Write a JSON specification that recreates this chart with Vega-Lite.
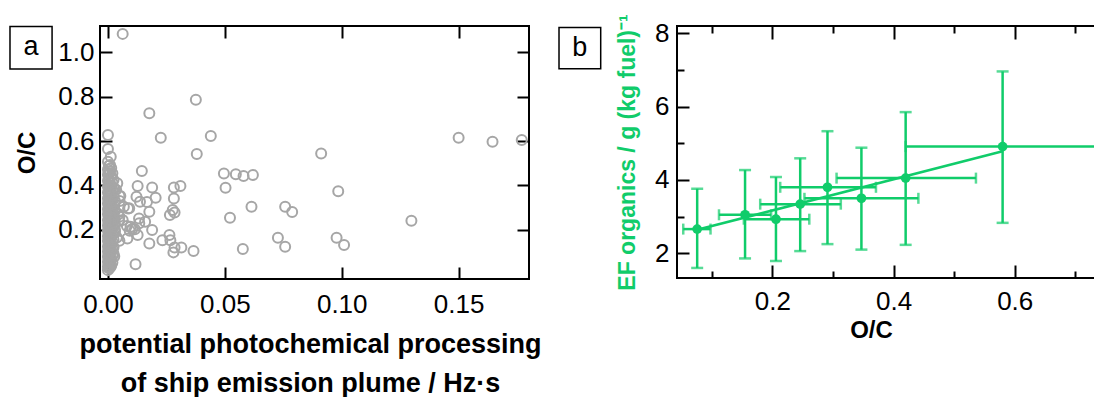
{
  "$schema": "https://vega.github.io/schema/vega-lite/v6.json",
  "background": "white",
  "padding": {"left": 8, "top": 12, "right": 0, "bottom": 0},
  "config": {
    "view": {"stroke": "black", "strokeWidth": 2},
    "font": "Liberation Sans",
    "axis": {
      "domain": false, "grid": false, "tickColor": "black", "tickWidth": 2,
      "labelFont": "Liberation Sans", "labelFontSize": 26, "labelColor": "black",
      "titleFont": "Liberation Sans", "titleFontWeight": "bold", "titleColor": "black",
      "labelFlush": false, "labelOverlap": false
    }
  },
  "datasets": {
    "scatter": [
      {"processing": 0.0063, "OC": 1.083}, {"processing": 0.0376, "OC": 0.786}, {"processing": 0.0177, "OC": 0.725},
      {"processing": 0.0, "OC": 0.627}, {"processing": 0.0226, "OC": 0.615}, {"processing": 0.044, "OC": 0.623},
      {"processing": 0.15, "OC": 0.615}, {"processing": 0.1645, "OC": 0.597}, {"processing": 0.177, "OC": 0.605},
      {"processing": 0.0, "OC": 0.564}, {"processing": 0.0012, "OC": 0.529}, {"processing": 0.038, "OC": 0.541},
      {"processing": 0.0912, "OC": 0.544}, {"processing": 0.0145, "OC": 0.465}, {"processing": 0.0496, "OC": 0.454},
      {"processing": 0.0547, "OC": 0.45}, {"processing": 0.058, "OC": 0.442}, {"processing": 0.062, "OC": 0.447},
      {"processing": 0.0127, "OC": 0.397}, {"processing": 0.0189, "OC": 0.391}, {"processing": 0.0282, "OC": 0.391},
      {"processing": 0.031, "OC": 0.397}, {"processing": 0.0503, "OC": 0.389}, {"processing": 0.0985, "OC": 0.374},
      {"processing": 0.0049, "OC": 0.352}, {"processing": 0.0122, "OC": 0.349}, {"processing": 0.0204, "OC": 0.344},
      {"processing": 0.0282, "OC": 0.341}, {"processing": 0.0137, "OC": 0.326}, {"processing": 0.0167, "OC": 0.325},
      {"processing": 0.0068, "OC": 0.304}, {"processing": 0.0086, "OC": 0.296}, {"processing": 0.0177, "OC": 0.281},
      {"processing": 0.0277, "OC": 0.289}, {"processing": 0.0285, "OC": 0.278}, {"processing": 0.0265, "OC": 0.266},
      {"processing": 0.0614, "OC": 0.304}, {"processing": 0.0758, "OC": 0.304}, {"processing": 0.0788, "OC": 0.28},
      {"processing": 0.0522, "OC": 0.254}, {"processing": 0.1298, "OC": 0.241}, {"processing": 0.0049, "OC": 0.259},
      {"processing": 0.0063, "OC": 0.244}, {"processing": 0.0133, "OC": 0.251}, {"processing": 0.0159, "OC": 0.236},
      {"processing": 0.0097, "OC": 0.214}, {"processing": 0.0115, "OC": 0.202}, {"processing": 0.0189, "OC": 0.199},
      {"processing": 0.0127, "OC": 0.176}, {"processing": 0.0038, "OC": 0.165}, {"processing": 0.0049, "OC": 0.15},
      {"processing": 0.0083, "OC": 0.161}, {"processing": 0.0233, "OC": 0.153}, {"processing": 0.0263, "OC": 0.176},
      {"processing": 0.0267, "OC": 0.153}, {"processing": 0.0177, "OC": 0.138}, {"processing": 0.0285, "OC": 0.12},
      {"processing": 0.0314, "OC": 0.12}, {"processing": 0.028, "OC": 0.098}, {"processing": 0.0366, "OC": 0.104},
      {"processing": 0.0577, "OC": 0.113}, {"processing": 0.0727, "OC": 0.164}, {"processing": 0.0758, "OC": 0.123},
      {"processing": 0.0978, "OC": 0.164}, {"processing": 0.101, "OC": 0.131}, {"processing": 0.0118, "OC": 0.045},
      {"processing": 0.0081, "OC": 0.217}, {"processing": 0.0105, "OC": 0.205}, {"processing": 0.0093, "OC": 0.195},
      {"processing": 0.0134, "OC": 0.229}, {"processing": 0.0048, "OC": 0.24}, {"processing": 0.0053, "OC": 0.352},
      {"processing": 0.0091, "OC": 0.297}, {"processing": 0.0027, "OC": 0.079}, {"processing": 0.004, "OC": 0.41},
      {"processing": 0.0035, "OC": 0.38}, {"processing": 0.005, "OC": 0.33}, {"processing": 0.0045, "OC": 0.27},
      {"processing": 0.003, "OC": 0.2},
      {"processing": 0.0, "OC": 0.507}, {"processing": 0.0, "OC": 0.472}, {"processing": 0.0, "OC": 0.448},
      {"processing": 0.0, "OC": 0.421}, {"processing": 0.0, "OC": 0.395}, {"processing": 0.0, "OC": 0.368},
      {"processing": 0.0, "OC": 0.341}, {"processing": 0.0, "OC": 0.318}, {"processing": 0.0, "OC": 0.292},
      {"processing": 0.0, "OC": 0.27}, {"processing": 0.0, "OC": 0.243}, {"processing": 0.0, "OC": 0.219},
      {"processing": 0.0, "OC": 0.196}, {"processing": 0.0, "OC": 0.171}, {"processing": 0.0, "OC": 0.149},
      {"processing": 0.0, "OC": 0.124}, {"processing": 0.0, "OC": 0.102}, {"processing": 0.0, "OC": 0.078},
      {"processing": 0.0, "OC": 0.056}, {"processing": 0.0, "OC": 0.034}, {"processing": 0.0, "OC": 0.018},
      {"processing": 0.0004, "OC": 0.488}, {"processing": 0.0004, "OC": 0.455}, {"processing": 0.0004, "OC": 0.43},
      {"processing": 0.0004, "OC": 0.402}, {"processing": 0.0004, "OC": 0.377}, {"processing": 0.0004, "OC": 0.35},
      {"processing": 0.0004, "OC": 0.326}, {"processing": 0.0004, "OC": 0.301}, {"processing": 0.0004, "OC": 0.279},
      {"processing": 0.0004, "OC": 0.254}, {"processing": 0.0004, "OC": 0.229}, {"processing": 0.0004, "OC": 0.207},
      {"processing": 0.0004, "OC": 0.183}, {"processing": 0.0004, "OC": 0.16}, {"processing": 0.0004, "OC": 0.137},
      {"processing": 0.0004, "OC": 0.112}, {"processing": 0.0004, "OC": 0.09}, {"processing": 0.0004, "OC": 0.066},
      {"processing": 0.0004, "OC": 0.043}, {"processing": 0.0004, "OC": 0.026},
      {"processing": 0.0009, "OC": 0.492}, {"processing": 0.0009, "OC": 0.463}, {"processing": 0.0009, "OC": 0.41},
      {"processing": 0.0009, "OC": 0.385}, {"processing": 0.0009, "OC": 0.358}, {"processing": 0.0009, "OC": 0.333},
      {"processing": 0.0009, "OC": 0.309}, {"processing": 0.0009, "OC": 0.283}, {"processing": 0.0009, "OC": 0.26},
      {"processing": 0.0009, "OC": 0.236}, {"processing": 0.0009, "OC": 0.212}, {"processing": 0.0009, "OC": 0.189},
      {"processing": 0.0009, "OC": 0.165}, {"processing": 0.0009, "OC": 0.141}, {"processing": 0.0009, "OC": 0.118},
      {"processing": 0.0009, "OC": 0.095}, {"processing": 0.0009, "OC": 0.072}, {"processing": 0.0009, "OC": 0.049},
      {"processing": 0.0009, "OC": 0.03},
      {"processing": 0.0014, "OC": 0.478}, {"processing": 0.0014, "OC": 0.44}, {"processing": 0.0014, "OC": 0.397},
      {"processing": 0.0014, "OC": 0.362}, {"processing": 0.0014, "OC": 0.329}, {"processing": 0.0014, "OC": 0.296},
      {"processing": 0.0014, "OC": 0.264}, {"processing": 0.0014, "OC": 0.232}, {"processing": 0.0014, "OC": 0.2},
      {"processing": 0.0014, "OC": 0.169}, {"processing": 0.0014, "OC": 0.135}, {"processing": 0.0014, "OC": 0.104},
      {"processing": 0.0014, "OC": 0.068}, {"processing": 0.0014, "OC": 0.038},
      {"processing": 0.0019, "OC": 0.455}, {"processing": 0.0019, "OC": 0.412}, {"processing": 0.0019, "OC": 0.373},
      {"processing": 0.0019, "OC": 0.337}, {"processing": 0.0019, "OC": 0.302}, {"processing": 0.0019, "OC": 0.271},
      {"processing": 0.0019, "OC": 0.238}, {"processing": 0.0019, "OC": 0.207}, {"processing": 0.0019, "OC": 0.176},
      {"processing": 0.0019, "OC": 0.145}, {"processing": 0.0019, "OC": 0.113}, {"processing": 0.0019, "OC": 0.083},
      {"processing": 0.0019, "OC": 0.052},
      {"processing": 0.0024, "OC": 0.424}, {"processing": 0.0024, "OC": 0.39}, {"processing": 0.0024, "OC": 0.35},
      {"processing": 0.0024, "OC": 0.31}, {"processing": 0.0024, "OC": 0.274}, {"processing": 0.0024, "OC": 0.246},
      {"processing": 0.0024, "OC": 0.213}, {"processing": 0.0024, "OC": 0.184}, {"processing": 0.0024, "OC": 0.155},
      {"processing": 0.0024, "OC": 0.121}, {"processing": 0.0024, "OC": 0.092},
      {"processing": 0.003, "OC": 0.38}, {"processing": 0.003, "OC": 0.33}, {"processing": 0.003, "OC": 0.285},
      {"processing": 0.003, "OC": 0.25}, {"processing": 0.003, "OC": 0.225}, {"processing": 0.003, "OC": 0.19}
    ],
    "ef": [
      {"OC": 0.076, "EF": 2.66, "EF_lo": 1.6, "EF_hi": 3.76, "OC_lo": 0.053, "OC_hi": 0.098},
      {"OC": 0.155, "EF": 3.05, "EF_lo": 1.86, "EF_hi": 4.27, "OC_lo": 0.112, "OC_hi": 0.198},
      {"OC": 0.206, "EF": 2.93, "EF_lo": 1.79, "EF_hi": 4.08, "OC_lo": 0.153, "OC_hi": 0.261},
      {"OC": 0.246, "EF": 3.34, "EF_lo": 2.06, "EF_hi": 4.59, "OC_lo": 0.18, "OC_hi": 0.313},
      {"OC": 0.291, "EF": 3.8, "EF_lo": 2.25, "EF_hi": 5.33, "OC_lo": 0.213, "OC_hi": 0.371},
      {"OC": 0.347, "EF": 3.5, "EF_lo": 2.1, "EF_hi": 4.88, "OC_lo": 0.253, "OC_hi": 0.441},
      {"OC": 0.42, "EF": 4.05, "EF_lo": 2.23, "EF_hi": 5.85, "OC_lo": 0.306, "OC_hi": 0.536},
      {"OC": 0.58, "EF": 4.91, "EF_lo": 2.83, "EF_hi": 6.96, "OC_lo": 0.42, "OC_hi": 0.74}
    ],
    "fit": [
      {"OC": 0.076, "EF": 2.64},
      {"OC": 0.58, "EF": 4.785}
    ]
  },
  "spacing": 148,
  "bounds": "flush",
  "hconcat": [
    {
      "width": 429,
      "height": 253,
      "resolve": {"axis": {"x": "independent", "y": "independent"}},
      "layer": [
        {
          "data": {"name": "scatter"},
          "mark": {"type": "point", "shape": "circle", "filled": false, "stroke": "#a6a6a6", "strokeWidth": 2, "size": 100, "opacity": 1},
          "encoding": {
            "x": {"field": "processing", "type": "quantitative",
              "scale": {"domain": [-0.0034, 0.1801], "nice": false, "zero": false},
              "axis": {"orient": "bottom", "values": [0, 0.05, 0.1, 0.15], "format": ".2f", "ticks": false, "labelPadding": 12,
                "title": ["potential photochemical processing", "of ship emission plume / Hz·s"], "titleFontSize": 27, "titleLineHeight": 39, "titlePadding": 14, "titleX": 210}},
            "y": {"field": "OC", "type": "quantitative",
              "scale": {"domain": [-0.022, 1.1185], "nice": false, "zero": false},
              "axis": {"orient": "left", "values": [0.2, 0.4, 0.6, 0.8, 1.0], "format": ".1f", "ticks": false, "labelPadding": 6,
                "title": "O/C", "titleFontSize": 24, "titlePadding": 18}}
          }
        },
        {
          "data": {"values": [{}]},
          "mark": {"type": "rect", "fill": "white", "stroke": "black", "strokeWidth": 1.5},
          "encoding": {
            "x": {"datum": -0.0419, "type": "quantitative",
              "scale": {"domain": [-0.0034, 0.1801], "nice": false, "zero": false},
              "axis": {"orient": "bottom", "values": [0, 0.05, 0.1, 0.15], "labels": false, "tickSize": -12, "title": null}},
            "x2": {"datum": -0.0239},
            "y": {"datum": 1.116, "type": "quantitative",
              "scale": {"domain": [-0.022, 1.1185], "nice": false, "zero": false},
              "axis": {"orient": "left", "values": [0.2, 0.4, 0.6, 0.8, 1.0], "labels": false, "tickSize": -12, "title": null}},
            "y2": {"datum": 0.925}
          }
        },
        {
          "data": {"values": [{}]},
          "mark": {"type": "text", "font": "Liberation Sans", "fontSize": 27, "color": "black", "align": "center", "baseline": "middle"},
          "encoding": {
            "x": {"datum": -0.0329, "type": "quantitative", "scale": {"domain": [-0.0034, 0.1801], "nice": false, "zero": false},
              "axis": {"orient": "top", "values": [0, 0.05, 0.1, 0.15], "labels": false, "tickSize": -12, "title": null}},
            "y": {"datum": 1.025, "type": "quantitative", "scale": {"domain": [-0.022, 1.1185], "nice": false, "zero": false},
              "axis": {"orient": "right", "values": [0.2, 0.4, 0.6, 0.8, 1.0], "labels": false, "tickSize": -12, "title": null}},
            "text": {"value": "a"}
          }
        }
      ]
    },
    {
      "width": 429,
      "height": 252,
      "resolve": {"axis": {"x": "independent", "y": "independent"}},
      "layer": [
        {
          "data": {"name": "ef"},
          "mark": {"type": "errorbar", "ticks": true, "size": 12, "thickness": 2.5, "color": "#10cc6a"},
          "encoding": {
            "x": {"field": "OC", "type": "quantitative",
              "scale": {"domain": [0.0427, 0.7506], "nice": false, "zero": false},
              "axis": {"orient": "bottom", "values": [0.2, 0.4, 0.6], "format": ".1f", "ticks": false, "labelPadding": 10,
                "title": "O/C", "titleFontSize": 24, "titlePadding": 4, "titleX": 194}},
            "y": {"field": "EF_lo", "type": "quantitative",
              "scale": {"domain": [1.326, 8.199], "nice": false, "zero": false},
              "axis": {"orient": "left", "values": [2, 4, 6, 8], "format": "d", "ticks": false, "labelPadding": 8,
                "title": "EF organics / g (kg fuel)⁻¹", "titleFontSize": 23, "titleColor": "#10cc6a", "titlePadding": 15}},
            "y2": {"field": "EF_hi"}
          }
        },
        {
          "data": {"name": "ef"},
          "mark": {"type": "errorbar", "ticks": true, "size": 11, "thickness": 2.5, "color": "#10cc6a"},
          "encoding": {
            "x": {"field": "OC_lo", "type": "quantitative",
              "scale": {"domain": [0.0427, 0.7506], "nice": false, "zero": false},
              "axis": {"orient": "bottom", "values": [0.1, 0.3, 0.5, 0.7], "labels": false, "tickSize": -7, "title": null}},
            "x2": {"field": "OC_hi"},
            "y": {"field": "EF", "type": "quantitative",
              "scale": {"domain": [1.326, 8.199], "nice": false, "zero": false},
              "axis": {"orient": "left", "values": [3, 5, 7], "labels": false, "tickSize": -7, "title": null}}
          }
        },
        {
          "data": {"name": "fit"},
          "mark": {"type": "line", "color": "#10cc6a", "strokeWidth": 2.5},
          "encoding": {
            "x": {"field": "OC", "type": "quantitative",
              "scale": {"domain": [0.0427, 0.7506], "nice": false, "zero": false},
              "axis": {"orient": "top", "values": [0.2, 0.4, 0.6], "labels": false, "tickSize": -13, "title": null}},
            "y": {"field": "EF", "type": "quantitative",
              "scale": {"domain": [1.326, 8.199], "nice": false, "zero": false},
              "axis": {"orient": "right", "values": [2, 4, 6, 8], "labels": false, "tickSize": -12, "title": null}}
          }
        },
        {
          "data": {"name": "ef"},
          "mark": {"type": "point", "shape": "circle", "filled": true, "color": "#10cc6a", "size": 95, "opacity": 1},
          "encoding": {
            "x": {"field": "OC", "type": "quantitative",
              "scale": {"domain": [0.0427, 0.7506], "nice": false, "zero": false},
              "axis": {"orient": "top", "values": [0.1, 0.3, 0.5, 0.7], "labels": false, "tickSize": -7, "title": null}},
            "y": {"field": "EF", "type": "quantitative",
              "scale": {"domain": [1.326, 8.199], "nice": false, "zero": false},
              "axis": {"orient": "right", "values": [3, 5, 7], "labels": false, "tickSize": -7, "title": null}}
          }
        },
        {
          "data": {"values": [{}]},
          "mark": {"type": "rect", "fill": "white", "stroke": "black", "strokeWidth": 1.5},
          "encoding": {
            "x": {"datum": -0.152, "type": "quantitative", "scale": {"domain": [0.0427, 0.7506], "nice": false, "zero": false},
              "axis": {"orient": "bottom", "values": [0.2, 0.4, 0.6], "labels": false, "tickSize": -13, "title": null}},
            "x2": {"datum": -0.0832},
            "y": {"datum": 8.16, "type": "quantitative", "scale": {"domain": [1.326, 8.199], "nice": false, "zero": false},
              "axis": {"orient": "left", "values": [2, 4, 6, 8], "labels": false, "tickSize": -12, "title": null}},
            "y2": {"datum": 7.03}
          }
        },
        {
          "data": {"values": [{}]},
          "mark": {"type": "text", "font": "Liberation Sans", "fontSize": 27, "color": "black", "align": "center", "baseline": "middle"},
          "encoding": {
            "x": {"datum": -0.1176, "type": "quantitative", "scale": {"domain": [0.0427, 0.7506], "nice": false, "zero": false}, "axis": null},
            "y": {"datum": 7.6, "type": "quantitative", "scale": {"domain": [1.326, 8.199], "nice": false, "zero": false}, "axis": null},
            "text": {"value": "b"}
          }
        }
      ]
    }
  ]
}
